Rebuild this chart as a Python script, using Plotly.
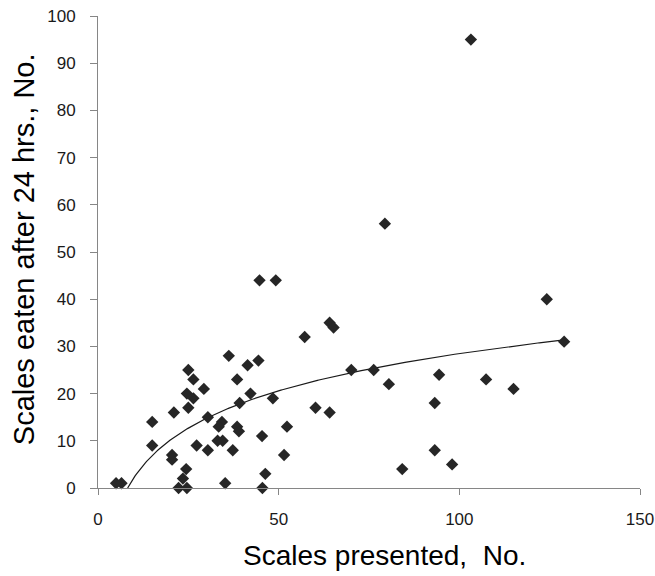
import numpy as np
import plotly.graph_objects as go

# Scales presented (x) and scales eaten after 24 hrs (y)
scales_presented = [5, 6.5, 15, 15, 21, 20.5, 20.5, 25, 26.4, 24.6, 26.4, 25, 27.3, 24.4, 23.5, 22.3, 24.6,
                    29.3, 30.4, 34.3, 33.4, 33.1, 34.5, 30.4, 36.2, 38.5, 39.2, 38.5, 39, 37.3, 35.2,
                    41.4, 42.2, 44.4, 44.7, 49.2, 45.4, 46.3, 45.5, 48.4, 51.5, 52.3, 57.2, 60.2,
                    64.1, 65.2, 64.1, 70.1, 76.3, 79.4, 80.5, 84.2, 93.2, 93.2, 94.4, 98, 103.2,
                    107.4, 115, 124.2, 129]
scales_eaten = [1, 1, 14, 9, 16, 7, 6, 25, 23, 20, 19, 17, 9, 4, 2, 0, 0,
                21, 15, 14, 13, 10, 10, 8, 28, 23, 18, 13, 12, 8, 1,
                26, 20, 27, 44, 44, 11, 3, 0, 19, 7, 13, 32, 17,
                35, 34, 16, 25, 25, 56, 22, 4, 18, 8, 24, 5, 95,
                23, 21, 40, 31]

# Logarithmic trendline y = a*ln(x) + b (coefficients)
trend_a = 11.39
trend_b = -23.97
trend_x_start = 8.2
trend_x_end = 129

x_ticks = [0, 50, 100, 150]
y_ticks = [0, 10, 20, 30, 40, 50, 60, 70, 80, 90, 100]

x_title = "Scales presented,  No."
y_title = "Scales eaten after 24 hrs., No."

tx = np.linspace(trend_x_start, trend_x_end, 300)
ty = trend_a * np.log(tx) + trend_b

fig = go.Figure()
fig.add_trace(go.Scatter(x=tx, y=ty, mode="lines",
                         line=dict(color="#1a1a1a", width=1.2),
                         hoverinfo="skip", showlegend=False))
fig.add_trace(go.Scatter(x=scales_presented, y=scales_eaten, mode="markers",
                         marker=dict(symbol="diamond", size=9.5, color="#262626",
                                     line=dict(width=0)),
                         cliponaxis=False, showlegend=False))

family = "Liberation Sans, Arial, sans-serif"
axis_font = dict(family=family, size=17, color="#1a1a1a")

fig.update_layout(
    width=655, height=576,
    margin=dict(l=98, r=15, t=16, b=88),
    paper_bgcolor="white", plot_bgcolor="white",
    xaxis=dict(range=[0, 150], tickvals=x_ticks, ticktext=[str(v) for v in x_ticks],
               automargin=False, ticklabelstandoff=10,
               showgrid=False, zeroline=False, showline=True, linecolor="#868686", linewidth=1,
               ticks="outside", ticklen=6, tickcolor="#868686", tickfont=axis_font),
    yaxis=dict(range=[0, 100], tickvals=y_ticks, ticktext=[str(v) for v in y_ticks],
               automargin=False, ticklabelstandoff=11,
               showgrid=False, zeroline=False, showline=True, linecolor="#868686", linewidth=1,
               ticks="outside", ticklen=7, tickcolor="#868686", tickfont=axis_font),
    annotations=[
        dict(text=x_title, xref="paper", yref="paper", x=0.5295, y=-0.142,
             xanchor="center", yanchor="middle", showarrow=False,
             font=dict(family=family, size=28, color="#000000")),
        dict(text=y_title, xref="paper", yref="paper", x=-0.1365, y=0.506,
             xanchor="center", yanchor="middle", showarrow=False, textangle=-90,
             font=dict(family=family, size=29, color="#000000")),
    ],
)

fig.write_html("out.html")
